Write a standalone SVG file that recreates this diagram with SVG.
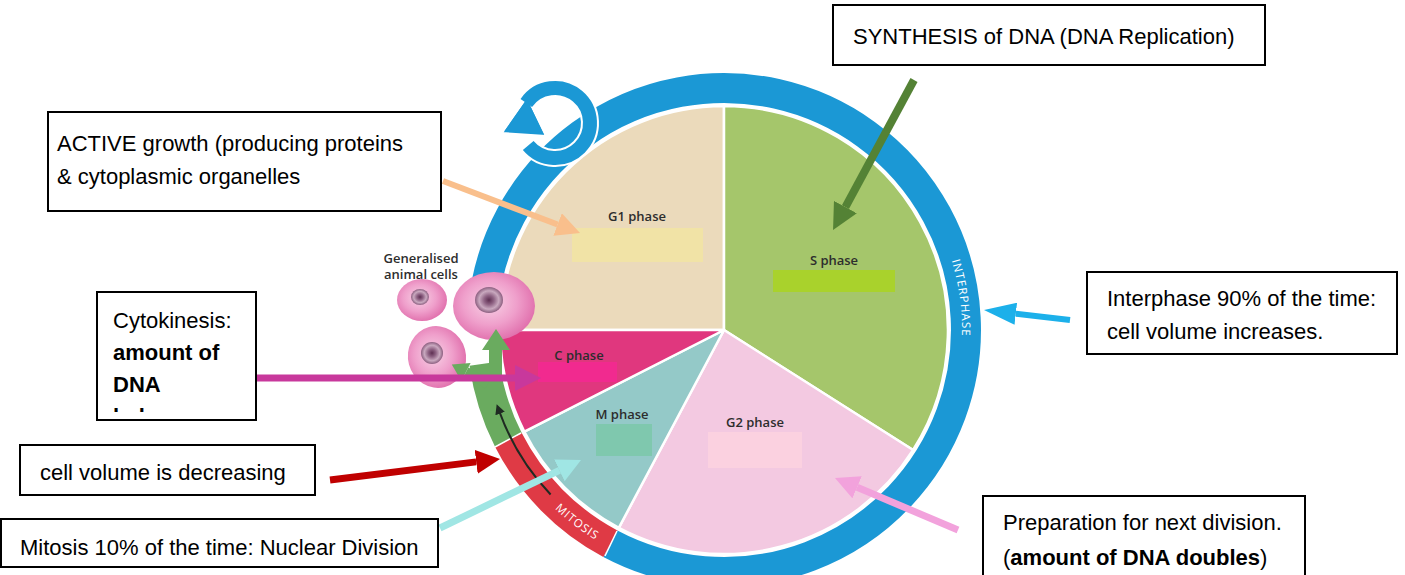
<svg xmlns="http://www.w3.org/2000/svg" width="1405" height="575" viewBox="0 0 1405 575">
  <style>
    .box { fill: #ffffff; stroke: #000000; stroke-width: 2; }
    .btxt { font-family: "Liberation Sans", Arial, sans-serif; font-size: 22px; fill: #000000; }
    .b { font-weight: bold; }
    .sector { stroke: #ffffff; stroke-width: 2.5; stroke-linejoin: round; }
    .plabel { font-family: "Open Sans", "Liberation Sans", sans-serif; font-size: 13px; font-weight: 600; fill: #2d2d2d; text-anchor: middle; }
    .ringtxt { font-family: "Open Sans", "Liberation Sans", sans-serif; font-size: 11.5px; fill: #ffffff; letter-spacing: 1px; }
    .ring { fill: none; stroke-width: 30; }
    .conn { fill: none; stroke-linecap: butt; }
  </style>
  <defs>
    <radialGradient id="cellFill" cx="0.45" cy="0.45" r="0.6">
      <stop offset="0" stop-color="#f8d3e6"/>
      <stop offset="0.55" stop-color="#ef9fcb"/>
      <stop offset="1" stop-color="#df6aa9"/>
    </radialGradient>
    <radialGradient id="nucFill" cx="0.5" cy="0.5" r="0.5">
      <stop offset="0" stop-color="#5e2f52"/>
      <stop offset="0.35" stop-color="#8f6384"/>
      <stop offset="0.7" stop-color="#c9a9bf"/>
      <stop offset="1" stop-color="#8c5f80"/>
    </radialGradient>
    <marker id="hPeach" markerUnits="userSpaceOnUse" viewBox="0 0 24 24" markerWidth="24" markerHeight="24" refX="0" refY="12" orient="auto"><path d="M0,0 L24,12 L0,24 Z" fill="#f9bf8c"/></marker>
    <marker id="hGreen" markerUnits="userSpaceOnUse" viewBox="0 0 26 26" markerWidth="26" markerHeight="26" refX="0" refY="13" orient="auto"><path d="M0,0 L26,13 L0,26 Z" fill="#548235"/></marker>
    <marker id="hBlue" markerUnits="userSpaceOnUse" viewBox="0 0 32 22" markerWidth="32" markerHeight="22" refX="0" refY="11" orient="auto"><path d="M0,0 L32,11 L0,22 Z" fill="#1cb0ea"/></marker>
    <marker id="hMagenta" markerUnits="userSpaceOnUse" viewBox="0 0 26 26" markerWidth="26" markerHeight="26" refX="0" refY="13" orient="auto"><path d="M0,0 L26,13 L0,26 Z" fill="#c8389c"/></marker>
    <marker id="hRed" markerUnits="userSpaceOnUse" viewBox="0 0 24 24" markerWidth="24" markerHeight="24" refX="0" refY="12" orient="auto"><path d="M0,0 L24,12 L0,24 Z" fill="#c00000"/></marker>
    <marker id="hCyan" markerUnits="userSpaceOnUse" viewBox="0 0 24 24" markerWidth="24" markerHeight="24" refX="0" refY="12" orient="auto"><path d="M0,0 L24,12 L0,24 Z" fill="#a0e6e4"/></marker>
    <marker id="hPink" markerUnits="userSpaceOnUse" viewBox="0 0 24 24" markerWidth="24" markerHeight="24" refX="0" refY="12" orient="auto"><path d="M0,0 L24,12 L0,24 Z" fill="#f2a2dc"/></marker>
    <marker id="hBlack" markerUnits="userSpaceOnUse" viewBox="0 0 10 10" markerWidth="10" markerHeight="10" refX="2" refY="5" orient="auto"><path d="M0,0 L10,5 L0,10 Z" fill="#1f2a22"/></marker>
    <path id="arcInter" d="M898.9,168.6 A238,238 0 0 1 935.5,439.2"/>
    <path id="arcMitosis" d="M496.9,424.5 A246,246 0 0 0 692.3,574"/>
    <clipPath id="cytoClip"><rect x="97" y="292" width="159" height="120"/></clipPath>
  </defs>

  <rect width="1405" height="575" fill="#ffffff"/>

  <!-- cell cycle pie -->
  <g id="pie">
    <path id="g1-sector" class="sector" fill="#ebdabb" d="M724,330 L500,330 A224,224 0 0 1 724,106 Z"/>
    <path id="s-sector" class="sector" fill="#a5c66b" d="M724,330 L724,106 A224,224 0 0 1 913.1,450 Z"/>
    <path id="g2-sector" class="sector" fill="#f3c9e1" d="M724,330 L913.1,450 A224,224 0 0 1 618.8,527.8 Z"/>
    <path id="m-sector" class="sector" fill="#94c9c8" d="M724,330 L618.8,527.8 A224,224 0 0 1 524.4,431.7 Z"/>
    <path id="c-sector" class="sector" fill="#e0377e" d="M724,330 L524.4,431.7 A224,224 0 0 1 500,330 Z"/>
  </g>

  <!-- outer ring: interphase / mitosis / cytokinesis -->
  <g id="ring">
    <path class="ring" stroke="#1b98d5" d="M482.9,308.9 A242,242 0 1 1 610.4,543.7"/>
    <path class="ring" stroke="#df3a45" d="M610.4,543.7 A242,242 0 0 1 508.4,439.9"/>
    <path class="ring" stroke="#6aab5f" d="M508.4,439.9 A242,242 0 0 1 484.4,363.7"/>
    <line x1="617" y1="531" x2="605" y2="556" stroke="#ffffff" stroke-width="1.5"/>
    <line x1="521" y1="433" x2="495" y2="447" stroke="#ffffff" stroke-width="1.5"/>
    <text class="ringtxt"><textPath href="#arcInter" startOffset="50%" text-anchor="middle">INTERPHASE</textPath></text>
    <text class="ringtxt"><textPath href="#arcMitosis" startOffset="50%" text-anchor="middle">MITOSIS</textPath></text>
  </g>

  <!-- cycle icon -->
  <g id="cycle-icon">
    <path d="M526.3,102.9 A35,35 0 1 1 528.2,145.5" fill="none" stroke="#ffffff" stroke-width="18"/>
    <path d="M502,133 L527,97 L546,136 Z" fill="#1b98d5" stroke="#ffffff" stroke-width="2" stroke-linejoin="round"/>
    <path d="M526.3,102.9 A35,35 0 1 1 528.2,145.5" fill="none" stroke="#1b98d5" stroke-width="14"/>
    <path d="M504.5,131 L527,99 L543.5,134 Z" fill="#1b98d5"/>
  </g>

  <!-- generalised animal cells -->
  <g id="cells">
    <text class="plabel" x="421" y="263" font-size="13" font-weight="700" fill="#3a3a3a">Generalised</text>
    <text class="plabel" x="421" y="279" font-size="13" font-weight="700" fill="#3a3a3a">animal cells</text>
    <ellipse cx="422" cy="300" rx="25" ry="21" fill="url(#cellFill)"/>
    <ellipse cx="420" cy="297" rx="9" ry="8" fill="url(#nucFill)"/>
    <ellipse cx="494" cy="306" rx="41" ry="34" fill="url(#cellFill)"/>
    <ellipse cx="489" cy="300" rx="14" ry="13" fill="url(#nucFill)"/>
    <ellipse cx="437" cy="357" rx="29" ry="31" fill="url(#cellFill)" transform="rotate(-15 437 357)"/>
    <ellipse cx="432" cy="353" rx="11" ry="11" fill="url(#nucFill)"/>
  </g>

  <!-- cytokinesis arrows out of the ring -->
  <g id="split-arrows" fill="#6aab5f">
    <polygon points="489,380 489,350 482,350 496,329 510,350 502,350 502,382"/>
    <line x1="488" y1="384" x2="466" y2="372" stroke="#6aab5f" stroke-width="10"/>
    <polygon points="451.8,364.6 470.6,363.1 461.4,380.9"/>
    <path d="M550.6,494.5 A239,239 0 0 1 499.4,411.7" fill="none" stroke="#1f2a22" stroke-width="2" marker-end="url(#hBlack)"/>
  </g>

  <!-- phase labels -->
  <g id="phase-labels">
    <rect x="572" y="228" width="131" height="34" fill="#f1e3a6"/>
    <text class="plabel" x="637" y="221">G1 phase</text>
    <rect x="773" y="270" width="122" height="22" fill="#a9d22c"/>
    <text class="plabel" x="834" y="265">S phase</text>
    <rect x="538" y="362" width="79" height="20" fill="#f12a8f"/>
    <text class="plabel" x="579" y="360" fill="#f7d6e6">C phase</text>
    <rect x="596" y="424" width="56" height="32" fill="#7fc8ae"/>
    <text class="plabel" x="622" y="419">M phase</text>
    <rect x="708" y="432" width="94" height="36" fill="#fbd1e0"/>
    <text class="plabel" x="755" y="427">G2 phase</text>
  </g>

  <!-- pointer arrows -->
  <g id="connectors" class="conn">
    <line x1="443" y1="181" x2="557.6" y2="224.5" stroke="#f9bf8c" stroke-width="6" marker-end="url(#hPeach)"/>
    <line x1="914" y1="80" x2="845.4" y2="207.1" stroke="#548235" stroke-width="8" marker-end="url(#hGreen)"/>
    <line x1="1070" y1="320" x2="1015.8" y2="313.7" stroke="#1cb0ea" stroke-width="6" marker-end="url(#hBlue)"/>
    <line x1="256" y1="378" x2="515" y2="378" stroke="#c8389c" stroke-width="7" marker-end="url(#hMagenta)"/>
    <line x1="330" y1="480" x2="476.2" y2="461.9" stroke="#c00000" stroke-width="7" marker-end="url(#hRed)"/>
    <line x1="440" y1="528" x2="559.4" y2="470.4" stroke="#a0e6e4" stroke-width="7" marker-end="url(#hCyan)"/>
    <line x1="958" y1="530" x2="857.1" y2="487.3" stroke="#f2a2dc" stroke-width="7" marker-end="url(#hPink)"/>
  </g>

  <!-- text boxes -->
  <g id="box-synthesis">
    <rect class="box" x="833" y="5" width="432" height="60"/>
    <text class="btxt" x="853" y="44">SYNTHESIS of DNA (DNA Replication)</text>
  </g>
  <g id="box-active">
    <rect class="box" x="48" y="112" width="393" height="99"/>
    <text class="btxt" x="57" y="151">ACTIVE growth (producing proteins</text>
    <text class="btxt" x="57" y="184">&amp; cytoplasmic organelles</text>
  </g>
  <g id="box-cytokinesis">
    <rect class="box" x="97" y="292" width="159" height="128"/>
    <g clip-path="url(#cytoClip)">
      <text class="btxt" x="113" y="328">Cytokinesis:</text>
      <text class="btxt b" x="113" y="360">amount of</text>
      <text class="btxt b" x="113" y="392">DNA</text>
      <text class="btxt b" x="113" y="424">halves</text>
    </g>
  </g>
  <g id="box-interphase">
    <rect class="box" x="1087" y="272" width="310" height="82"/>
    <text class="btxt" x="1107" y="306">Interphase 90% of the time:</text>
    <text class="btxt" x="1107" y="339">cell volume increases.</text>
  </g>
  <g id="box-decreasing">
    <rect class="box" x="20" y="445" width="295" height="50"/>
    <text class="btxt" x="40" y="480">cell volume is decreasing</text>
  </g>
  <g id="box-mitosis">
    <rect class="box" x="1" y="519" width="437" height="48"/>
    <text class="btxt" x="20" y="555">Mitosis 10% of the time: Nuclear Division</text>
  </g>
  <g id="box-preparation">
    <rect class="box" x="983" y="496" width="322" height="90"/>
    <text class="btxt" x="1003" y="530">Preparation for next division.</text>
    <text class="btxt" x="1003" y="565">(<tspan class="b">amount of DNA doubles</tspan>)</text>
  </g>
</svg>
